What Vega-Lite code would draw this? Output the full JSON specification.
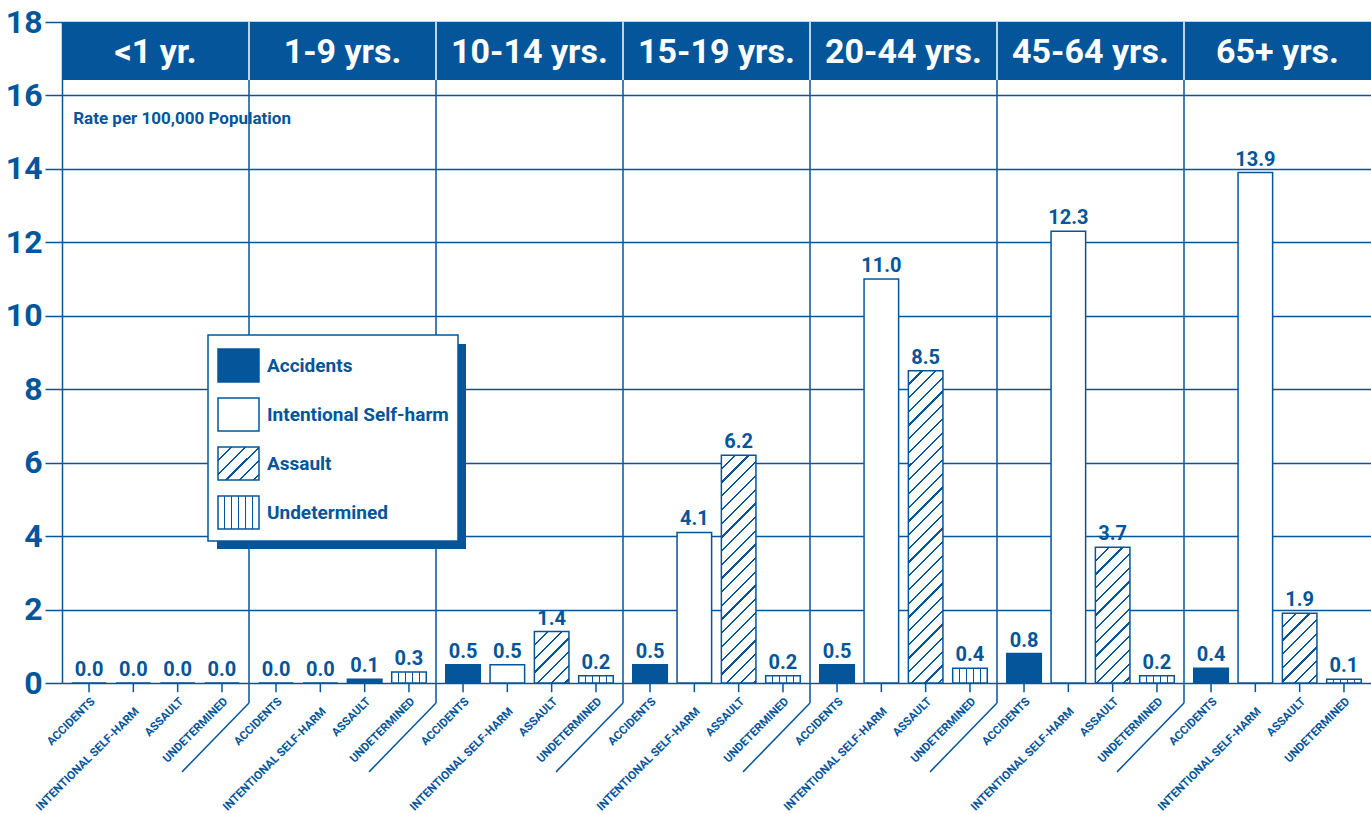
{
"$schema": "https://vega.github.io/schema/vega-lite/v6.json",
"width": 1309,
"height": 661,
"autosize": {"type": "none"},
"padding": {"left": 62, "top": 22, "right": 0, "bottom": 131},
"background": "white",
"config": {
  "view": {"stroke": null},
  "font": "Roboto",
  "axisX": {"disable": true},
  "axisY": {"domainColor": "#045599", "domainWidth": 1.5, "tickColor": "#045599", "tickWidth": 1.5, "tickSize": 17, "grid": true, "gridColor": "#045599", "gridWidth": 1.5, "gridOpacity": 1, "labelFont": "Roboto", "labelFontSize": 32, "labelFontWeight": "bold", "labelColor": "#045599", "labelPadding": 3},
  "legend": {"title": null, "orient": "none", "padding": 9, "rowPadding": 8, "strokeWidth": 1.5, "symbolType": "M-1,-0.8H1V0.8H-1Z", "symbolSize": 1681, "symbolStrokeWidth": 1.5, "symbolStrokeColor": "#045599", "labelFont": "Roboto", "labelFontSize": 19, "labelFontWeight": "bold", "labelColor": "#045599", "labelOffset": 7, "labelLimit": 400}
},
"datasets": {
  "rates": [
    {"group": "<1 yr.", "cause": "Accidents", "rate": 0.0},
    {"group": "<1 yr.", "cause": "Intentional Self-harm", "rate": 0.0},
    {"group": "<1 yr.", "cause": "Assault", "rate": 0.0},
    {"group": "<1 yr.", "cause": "Undetermined", "rate": 0.0},
    {"group": "1-9 yrs.", "cause": "Accidents", "rate": 0.0},
    {"group": "1-9 yrs.", "cause": "Intentional Self-harm", "rate": 0.0},
    {"group": "1-9 yrs.", "cause": "Assault", "rate": 0.1},
    {"group": "1-9 yrs.", "cause": "Undetermined", "rate": 0.3},
    {"group": "10-14 yrs.", "cause": "Accidents", "rate": 0.5},
    {"group": "10-14 yrs.", "cause": "Intentional Self-harm", "rate": 0.5},
    {"group": "10-14 yrs.", "cause": "Assault", "rate": 1.4},
    {"group": "10-14 yrs.", "cause": "Undetermined", "rate": 0.2},
    {"group": "15-19 yrs.", "cause": "Accidents", "rate": 0.5},
    {"group": "15-19 yrs.", "cause": "Intentional Self-harm", "rate": 4.1},
    {"group": "15-19 yrs.", "cause": "Assault", "rate": 6.2},
    {"group": "15-19 yrs.", "cause": "Undetermined", "rate": 0.2},
    {"group": "20-44 yrs.", "cause": "Accidents", "rate": 0.5},
    {"group": "20-44 yrs.", "cause": "Intentional Self-harm", "rate": 11.0},
    {"group": "20-44 yrs.", "cause": "Assault", "rate": 8.5},
    {"group": "20-44 yrs.", "cause": "Undetermined", "rate": 0.4},
    {"group": "45-64 yrs.", "cause": "Accidents", "rate": 0.8},
    {"group": "45-64 yrs.", "cause": "Intentional Self-harm", "rate": 12.3},
    {"group": "45-64 yrs.", "cause": "Assault", "rate": 3.7},
    {"group": "45-64 yrs.", "cause": "Undetermined", "rate": 0.2},
    {"group": "65+ yrs.", "cause": "Accidents", "rate": 0.4},
    {"group": "65+ yrs.", "cause": "Intentional Self-harm", "rate": 13.9},
    {"group": "65+ yrs.", "cause": "Assault", "rate": 1.9},
    {"group": "65+ yrs.", "cause": "Undetermined", "rate": 0.1}
  ],
  "groups": [
    {"group": "<1 yr."}, {"group": "1-9 yrs."}, {"group": "10-14 yrs."}, {"group": "15-19 yrs."}, {"group": "20-44 yrs."}, {"group": "45-64 yrs."}, {"group": "65+ yrs."}
  ]
},
"layer": [
  {
    "data": {"name": "rates"},
    "mark": {"type": "bar", "opacity": 0},
    "encoding": {
      "x": {"field": "group", "type": "nominal", "axis": null, "sort": null, "scale": {"domain": ["<1 yr.","1-9 yrs.","10-14 yrs.","15-19 yrs.","20-44 yrs.","45-64 yrs.","65+ yrs."], "paddingInner": 0, "paddingOuter": 0}},
      "xOffset": {"field": "cause", "type": "nominal", "sort": null, "scale": {"domain": ["Accidents","Intentional Self-harm","Assault","Undetermined"], "paddingInner": 0.22, "paddingOuter": 0.22}},
      "y": {"field": "rate", "type": "quantitative", "scale": {"domain": [0, 18], "nice": false}, "axis": {"values": [0,2,4,6,8,10,12,14,16,18], "title": null}},
      "fill": {"field": "cause", "type": "nominal", "scale": {"domain": ["Accidents","Intentional Self-harm","Assault","Undetermined"], "range": ["#045599", "#ffffff",
          {"expr": "{gradient:'linear',x1:0,y1:0,x2:1.0953,y2:0.8816,stops:[{offset:0.1698,color:'#fff'},{offset:0.1698,color:'#045599'},{offset:0.2004,color:'#045599'},{offset:0.2004,color:'#fff'},{offset:0.355,color:'#fff'},{offset:0.355,color:'#045599'},{offset:0.3856,color:'#045599'},{offset:0.3856,color:'#fff'},{offset:0.5401,color:'#fff'},{offset:0.5401,color:'#045599'},{offset:0.5707,color:'#045599'},{offset:0.5707,color:'#fff'},{offset:0.7252,color:'#fff'},{offset:0.7252,color:'#045599'},{offset:0.7558,color:'#045599'},{offset:0.7558,color:'#fff'},{offset:0.9104,color:'#fff'},{offset:0.9104,color:'#045599'},{offset:0.941,color:'#045599'},{offset:0.941,color:'#fff'}]}"},
          {"expr": "{gradient:'linear',x1:0,y1:0,x2:1,y2:0,stops:[{offset:0.1508,color:'#fff'},{offset:0.1508,color:'#045599'},{offset:0.1826,color:'#045599'},{offset:0.1826,color:'#fff'},{offset:0.3174,color:'#fff'},{offset:0.3174,color:'#045599'},{offset:0.3492,color:'#045599'},{offset:0.3492,color:'#fff'},{offset:0.4841,color:'#fff'},{offset:0.4841,color:'#045599'},{offset:0.5159,color:'#045599'},{offset:0.5159,color:'#fff'},{offset:0.6508,color:'#fff'},{offset:0.6508,color:'#045599'},{offset:0.6826,color:'#045599'},{offset:0.6826,color:'#fff'},{offset:0.8174,color:'#fff'},{offset:0.8174,color:'#045599'},{offset:0.8492,color:'#045599'},{offset:0.8492,color:'#fff'}]}"}
        ]},
        "legend": {"legendX": 146, "legendY": 313, "fillColor": "#ffffff", "strokeColor": "#045599", "symbolOpacity": 1}}
    }
  },
  {
    "data": {"name": "groups"},
    "transform": [{"filter": "datum.group !== '<1 yr.'"}],
    "mark": {"type": "rule", "color": "#045599", "strokeWidth": 1.5},
    "encoding": {
      "x": {"field": "group", "type": "nominal", "bandPosition": 0, "axis": null},
      "y": {"datum": 16.42},
      "y2": {"datum": -0.545}
    }
  },
  {
    "data": {"name": "groups"},
    "transform": [{"filter": "datum.group !== '<1 yr.'"}],
    "mark": {"type": "rule", "color": "#045599", "strokeWidth": 1.5},
    "encoding": {
      "x": {"field": "group", "type": "nominal", "bandPosition": 0, "axis": null},
      "x2": {"field": "group", "bandPosition": -0.358},
      "y": {"datum": -0.545},
      "y2": {"datum": -2.42}
    }
  },
  {
    "data": {"values": [{"part": "legend shadow"}]},
    "mark": {"type": "rect", "color": "#045599"},
    "encoding": {
      "x": {"datum": "<1 yr.", "type": "nominal", "bandPosition": 0.8289, "axis": null},
      "x2": {"datum": "10-14 yrs.", "bandPosition": 0.1604},
      "y": {"datum": 9.232},
      "y2": {"datum": 3.649}
    }
  },
  {
    "data": {"name": "groups"},
    "mark": {"type": "rect", "color": "#045599"},
    "encoding": {
      "x": {"field": "group", "type": "nominal", "axis": null},
      "y": {"datum": 18},
      "y2": {"datum": 16.42}
    }
  },
  {
    "data": {"name": "groups"},
    "transform": [{"filter": "datum.group !== '<1 yr.'"}],
    "mark": {"type": "rule", "color": "#ffffff", "strokeWidth": 1.5},
    "encoding": {
      "x": {"field": "group", "type": "nominal", "bandPosition": 0, "axis": null},
      "y": {"datum": 18},
      "y2": {"datum": 16.42}
    }
  },
  {
    "data": {"name": "groups"},
    "mark": {"type": "text", "color": "#ffffff", "fontSize": 34, "fontWeight": "bold", "baseline": "alphabetic"},
    "encoding": {
      "x": {"field": "group", "type": "nominal", "axis": null},
      "y": {"datum": 16.88},
      "text": {"field": "group"}
    }
  },
  {
    "data": {"values": [{"note": "Rate per 100,000 Population"}]},
    "mark": {"type": "text", "color": "#045599", "fontSize": 17, "fontWeight": "bold", "align": "left", "baseline": "middle"},
    "encoding": {
      "x": {"datum": "<1 yr.", "type": "nominal", "bandPosition": 0.06, "axis": null},
      "y": {"datum": 15.36},
      "text": {"field": "note"}
    }
  },
  {
    "data": {"name": "rates"},
    "mark": {"type": "bar", "strokeWidth": 1.5, "stroke": "#045599"},
    "encoding": {
      "x": {"field": "group", "type": "nominal", "axis": null},
      "xOffset": {"field": "cause", "type": "nominal"},
      "y": {"field": "rate", "type": "quantitative"},
      "fill": {
        "condition": [
          {"test": "datum.cause === 'Accidents'", "value": "#045599"},
          {"test": "datum.cause === 'Undetermined'", "value": {"gradient": "linear", "x1": 0, "y1": 0, "x2": 1, "y2": 0, "stops": [
            {"offset":0.1812,"color":"#fff"},{"offset":0.1812,"color":"#045599"},{"offset":0.2188,"color":"#045599"},{"offset":0.2188,"color":"#fff"},
            {"offset":0.3812,"color":"#fff"},{"offset":0.3812,"color":"#045599"},{"offset":0.4188,"color":"#045599"},{"offset":0.4188,"color":"#fff"},
            {"offset":0.5812,"color":"#fff"},{"offset":0.5812,"color":"#045599"},{"offset":0.6188,"color":"#045599"},{"offset":0.6188,"color":"#fff"},
            {"offset":0.7812,"color":"#fff"},{"offset":0.7812,"color":"#045599"},{"offset":0.8188,"color":"#045599"},{"offset":0.8188,"color":"#fff"}]}},
          {"test": "datum.cause === 'Assault' && datum.group === '1-9 yrs.'", "value": "#045599"},
          {"test": "datum.cause === 'Assault' && datum.group === '10-14 yrs.'", "value": {"gradient": "linear", "x1": 0, "y1": 0, "x2": 0.775, "y2": 1.151, "stops": [
            {"offset":0.1462,"color":"#fff"},{"offset":0.1462,"color":"#045599"},{"offset":0.1724,"color":"#045599"},{"offset":0.1724,"color":"#fff"},
            {"offset":0.3055,"color":"#fff"},{"offset":0.3055,"color":"#045599"},{"offset":0.3317,"color":"#045599"},{"offset":0.3317,"color":"#fff"},
            {"offset":0.4648,"color":"#fff"},{"offset":0.4648,"color":"#045599"},{"offset":0.4910,"color":"#045599"},{"offset":0.4910,"color":"#fff"},
            {"offset":0.6241,"color":"#fff"},{"offset":0.6241,"color":"#045599"},{"offset":0.6503,"color":"#045599"},{"offset":0.6503,"color":"#fff"},
            {"offset":0.7834,"color":"#fff"},{"offset":0.7834,"color":"#045599"},{"offset":0.8096,"color":"#045599"},{"offset":0.8096,"color":"#fff"},
            {"offset":0.9427,"color":"#fff"},{"offset":0.9427,"color":"#045599"},{"offset":0.9689,"color":"#045599"},{"offset":0.9689,"color":"#fff"}]}},
          {"test": "datum.cause === 'Assault' && datum.group === '15-19 yrs.'", "value": {"gradient": "linear", "x1": 0, "y1": 0, "x2": 0.1709, "y2": 1.126, "stops": [
            {"offset":0.0479,"color":"#fff"},{"offset":0.0479,"color":"#045599"},{"offset":0.0565,"color":"#045599"},{"offset":0.0565,"color":"#fff"},
            {"offset":0.1002,"color":"#fff"},{"offset":0.1002,"color":"#045599"},{"offset":0.1088,"color":"#045599"},{"offset":0.1088,"color":"#fff"},
            {"offset":0.1524,"color":"#fff"},{"offset":0.1524,"color":"#045599"},{"offset":0.1610,"color":"#045599"},{"offset":0.1610,"color":"#fff"},
            {"offset":0.2046,"color":"#fff"},{"offset":0.2046,"color":"#045599"},{"offset":0.2132,"color":"#045599"},{"offset":0.2132,"color":"#fff"},
            {"offset":0.2569,"color":"#fff"},{"offset":0.2569,"color":"#045599"},{"offset":0.2655,"color":"#045599"},{"offset":0.2655,"color":"#fff"},
            {"offset":0.3091,"color":"#fff"},{"offset":0.3091,"color":"#045599"},{"offset":0.3177,"color":"#045599"},{"offset":0.3177,"color":"#fff"},
            {"offset":0.3613,"color":"#fff"},{"offset":0.3613,"color":"#045599"},{"offset":0.3699,"color":"#045599"},{"offset":0.3699,"color":"#fff"},
            {"offset":0.4135,"color":"#fff"},{"offset":0.4135,"color":"#045599"},{"offset":0.4221,"color":"#045599"},{"offset":0.4221,"color":"#fff"},
            {"offset":0.4658,"color":"#fff"},{"offset":0.4658,"color":"#045599"},{"offset":0.4744,"color":"#045599"},{"offset":0.4744,"color":"#fff"},
            {"offset":0.5180,"color":"#fff"},{"offset":0.5180,"color":"#045599"},{"offset":0.5266,"color":"#045599"},{"offset":0.5266,"color":"#fff"},
            {"offset":0.5702,"color":"#fff"},{"offset":0.5702,"color":"#045599"},{"offset":0.5788,"color":"#045599"},{"offset":0.5788,"color":"#fff"},
            {"offset":0.6225,"color":"#fff"},{"offset":0.6225,"color":"#045599"},{"offset":0.6311,"color":"#045599"},{"offset":0.6311,"color":"#fff"},
            {"offset":0.6747,"color":"#fff"},{"offset":0.6747,"color":"#045599"},{"offset":0.6833,"color":"#045599"},{"offset":0.6833,"color":"#fff"},
            {"offset":0.7269,"color":"#fff"},{"offset":0.7269,"color":"#045599"},{"offset":0.7355,"color":"#045599"},{"offset":0.7355,"color":"#fff"},
            {"offset":0.7792,"color":"#fff"},{"offset":0.7792,"color":"#045599"},{"offset":0.7878,"color":"#045599"},{"offset":0.7878,"color":"#fff"},
            {"offset":0.8314,"color":"#fff"},{"offset":0.8314,"color":"#045599"},{"offset":0.8400,"color":"#045599"},{"offset":0.8400,"color":"#fff"},
            {"offset":0.8836,"color":"#fff"},{"offset":0.8836,"color":"#045599"},{"offset":0.8922,"color":"#045599"},{"offset":0.8922,"color":"#fff"},
            {"offset":0.9358,"color":"#fff"},{"offset":0.9358,"color":"#045599"},{"offset":0.9444,"color":"#045599"},{"offset":0.9444,"color":"#fff"},
            {"offset":0.9881,"color":"#fff"},{"offset":0.9881,"color":"#045599"},{"offset":0.9967,"color":"#045599"},{"offset":0.9967,"color":"#fff"}]}},
          {"test": "datum.cause === 'Assault' && datum.group === '20-44 yrs.'", "value": {"gradient": "linear", "x1": 0, "y1": 0, "x2": 0.1215, "y2": 1.0974, "stops": [
            {"offset":0.0362,"color":"#fff"},{"offset":0.0362,"color":"#045599"},{"offset":0.0428,"color":"#045599"},{"offset":0.0428,"color":"#fff"},
            {"offset":0.0757,"color":"#fff"},{"offset":0.0757,"color":"#045599"},{"offset":0.0823,"color":"#045599"},{"offset":0.0823,"color":"#fff"},
            {"offset":0.1152,"color":"#fff"},{"offset":0.1152,"color":"#045599"},{"offset":0.1218,"color":"#045599"},{"offset":0.1218,"color":"#fff"},
            {"offset":0.1548,"color":"#fff"},{"offset":0.1548,"color":"#045599"},{"offset":0.1614,"color":"#045599"},{"offset":0.1614,"color":"#fff"},
            {"offset":0.1943,"color":"#fff"},{"offset":0.1943,"color":"#045599"},{"offset":0.2009,"color":"#045599"},{"offset":0.2009,"color":"#fff"},
            {"offset":0.2338,"color":"#fff"},{"offset":0.2338,"color":"#045599"},{"offset":0.2404,"color":"#045599"},{"offset":0.2404,"color":"#fff"},
            {"offset":0.2733,"color":"#fff"},{"offset":0.2733,"color":"#045599"},{"offset":0.2799,"color":"#045599"},{"offset":0.2799,"color":"#fff"},
            {"offset":0.3128,"color":"#fff"},{"offset":0.3128,"color":"#045599"},{"offset":0.3194,"color":"#045599"},{"offset":0.3194,"color":"#fff"},
            {"offset":0.3523,"color":"#fff"},{"offset":0.3523,"color":"#045599"},{"offset":0.3589,"color":"#045599"},{"offset":0.3589,"color":"#fff"},
            {"offset":0.3919,"color":"#fff"},{"offset":0.3919,"color":"#045599"},{"offset":0.3985,"color":"#045599"},{"offset":0.3985,"color":"#fff"},
            {"offset":0.4314,"color":"#fff"},{"offset":0.4314,"color":"#045599"},{"offset":0.4380,"color":"#045599"},{"offset":0.4380,"color":"#fff"},
            {"offset":0.4709,"color":"#fff"},{"offset":0.4709,"color":"#045599"},{"offset":0.4775,"color":"#045599"},{"offset":0.4775,"color":"#fff"},
            {"offset":0.5104,"color":"#fff"},{"offset":0.5104,"color":"#045599"},{"offset":0.5170,"color":"#045599"},{"offset":0.5170,"color":"#fff"},
            {"offset":0.5499,"color":"#fff"},{"offset":0.5499,"color":"#045599"},{"offset":0.5565,"color":"#045599"},{"offset":0.5565,"color":"#fff"},
            {"offset":0.5894,"color":"#fff"},{"offset":0.5894,"color":"#045599"},{"offset":0.5960,"color":"#045599"},{"offset":0.5960,"color":"#fff"},
            {"offset":0.6290,"color":"#fff"},{"offset":0.6290,"color":"#045599"},{"offset":0.6356,"color":"#045599"},{"offset":0.6356,"color":"#fff"},
            {"offset":0.6685,"color":"#fff"},{"offset":0.6685,"color":"#045599"},{"offset":0.6751,"color":"#045599"},{"offset":0.6751,"color":"#fff"},
            {"offset":0.7080,"color":"#fff"},{"offset":0.7080,"color":"#045599"},{"offset":0.7146,"color":"#045599"},{"offset":0.7146,"color":"#fff"},
            {"offset":0.7475,"color":"#fff"},{"offset":0.7475,"color":"#045599"},{"offset":0.7541,"color":"#045599"},{"offset":0.7541,"color":"#fff"},
            {"offset":0.7870,"color":"#fff"},{"offset":0.7870,"color":"#045599"},{"offset":0.7936,"color":"#045599"},{"offset":0.7936,"color":"#fff"},
            {"offset":0.8265,"color":"#fff"},{"offset":0.8265,"color":"#045599"},{"offset":0.8331,"color":"#045599"},{"offset":0.8331,"color":"#fff"},
            {"offset":0.8661,"color":"#fff"},{"offset":0.8661,"color":"#045599"},{"offset":0.8727,"color":"#045599"},{"offset":0.8727,"color":"#fff"},
            {"offset":0.9056,"color":"#fff"},{"offset":0.9056,"color":"#045599"},{"offset":0.9122,"color":"#045599"},{"offset":0.9122,"color":"#fff"},
            {"offset":0.9451,"color":"#fff"},{"offset":0.9451,"color":"#045599"},{"offset":0.9517,"color":"#045599"},{"offset":0.9517,"color":"#fff"},
            {"offset":0.9846,"color":"#fff"},{"offset":0.9846,"color":"#045599"},{"offset":0.9912,"color":"#045599"},{"offset":0.9912,"color":"#fff"}]}},
          {"test": "datum.cause === 'Assault' && datum.group === '45-64 yrs.'", "value": {"gradient": "linear", "x1": 0, "y1": 0, "x2": 0.2997, "y2": 1.1784, "stops": [
            {"offset":0.0738,"color":"#fff"},{"offset":0.0738,"color":"#045599"},{"offset":0.0870,"color":"#045599"},{"offset":0.0870,"color":"#fff"},
            {"offset":0.1541,"color":"#fff"},{"offset":0.1541,"color":"#045599"},{"offset":0.1673,"color":"#045599"},{"offset":0.1673,"color":"#fff"},
            {"offset":0.2345,"color":"#fff"},{"offset":0.2345,"color":"#045599"},{"offset":0.2477,"color":"#045599"},{"offset":0.2477,"color":"#fff"},
            {"offset":0.3148,"color":"#fff"},{"offset":0.3148,"color":"#045599"},{"offset":0.3280,"color":"#045599"},{"offset":0.3280,"color":"#fff"},
            {"offset":0.3952,"color":"#fff"},{"offset":0.3952,"color":"#045599"},{"offset":0.4084,"color":"#045599"},{"offset":0.4084,"color":"#fff"},
            {"offset":0.4755,"color":"#fff"},{"offset":0.4755,"color":"#045599"},{"offset":0.4887,"color":"#045599"},{"offset":0.4887,"color":"#fff"},
            {"offset":0.5559,"color":"#fff"},{"offset":0.5559,"color":"#045599"},{"offset":0.5691,"color":"#045599"},{"offset":0.5691,"color":"#fff"},
            {"offset":0.6362,"color":"#fff"},{"offset":0.6362,"color":"#045599"},{"offset":0.6494,"color":"#045599"},{"offset":0.6494,"color":"#fff"},
            {"offset":0.7166,"color":"#fff"},{"offset":0.7166,"color":"#045599"},{"offset":0.7298,"color":"#045599"},{"offset":0.7298,"color":"#fff"},
            {"offset":0.7969,"color":"#fff"},{"offset":0.7969,"color":"#045599"},{"offset":0.8101,"color":"#045599"},{"offset":0.8101,"color":"#fff"},
            {"offset":0.8773,"color":"#fff"},{"offset":0.8773,"color":"#045599"},{"offset":0.8905,"color":"#045599"},{"offset":0.8905,"color":"#fff"},
            {"offset":0.9576,"color":"#fff"},{"offset":0.9576,"color":"#045599"},{"offset":0.9708,"color":"#045599"},{"offset":0.9708,"color":"#fff"}]}},
          {"test": "datum.cause === 'Assault' && datum.group === '65+ yrs.'", "value": {"gradient": "linear", "x1": 0, "y1": 0, "x2": 0.5948, "y2": 1.2012, "stops": [
            {"offset":0.1204,"color":"#fff"},{"offset":0.1204,"color":"#045599"},{"offset":0.1420,"color":"#045599"},{"offset":0.1420,"color":"#fff"},
            {"offset":0.2517,"color":"#fff"},{"offset":0.2517,"color":"#045599"},{"offset":0.2733,"color":"#045599"},{"offset":0.2733,"color":"#fff"},
            {"offset":0.3829,"color":"#fff"},{"offset":0.3829,"color":"#045599"},{"offset":0.4045,"color":"#045599"},{"offset":0.4045,"color":"#fff"},
            {"offset":0.5141,"color":"#fff"},{"offset":0.5141,"color":"#045599"},{"offset":0.5357,"color":"#045599"},{"offset":0.5357,"color":"#fff"},
            {"offset":0.6454,"color":"#fff"},{"offset":0.6454,"color":"#045599"},{"offset":0.6670,"color":"#045599"},{"offset":0.6670,"color":"#fff"},
            {"offset":0.7766,"color":"#fff"},{"offset":0.7766,"color":"#045599"},{"offset":0.7982,"color":"#045599"},{"offset":0.7982,"color":"#fff"},
            {"offset":0.9078,"color":"#fff"},{"offset":0.9078,"color":"#045599"},{"offset":0.9294,"color":"#045599"},{"offset":0.9294,"color":"#fff"}]}}
        ],
        "value": "#ffffff"
      }
    }
  },
  {
    "data": {"name": "rates"},
    "mark": {"type": "rule", "color": "#045599", "strokeWidth": 1.5},
    "encoding": {
      "x": {"field": "group", "type": "nominal", "axis": null},
      "xOffset": {"field": "cause", "type": "nominal"},
      "y": {"datum": 0},
      "y2": {"datum": -0.25}
    }
  },
  {
    "data": {"name": "rates"},
    "mark": {"type": "text", "color": "#045599", "fontSize": 20, "fontWeight": "bold", "baseline": "alphabetic", "dy": -7},
    "encoding": {
      "x": {"field": "group", "type": "nominal", "axis": null},
      "xOffset": {"field": "cause", "type": "nominal"},
      "y": {"field": "rate", "type": "quantitative"},
      "text": {"field": "rate", "type": "quantitative", "format": ".1f"}
    }
  },
  {
    "data": {"name": "rates"},
    "transform": [{"calculate": "upper(datum.cause)", "as": "cat"}, {"filter": "datum.cause !== 'Intentional Self-harm'"}],
    "mark": {"type": "text", "color": "#045599", "fontSize": 11.5, "fontWeight": "bold", "angle": -45, "align": "right", "baseline": "top"},
    "encoding": {
      "x": {"field": "group", "type": "nominal", "axis": null},
      "xOffset": {"field": "cause", "type": "nominal"},
      "y": {"datum": -0.35},
      "text": {"field": "cat"}
    }
  },
  {
    "data": {"name": "rates"},
    "transform": [{"calculate": "upper(datum.cause)", "as": "cat"}, {"filter": "datum.cause === 'Intentional Self-harm'"}],
    "mark": {"type": "text", "color": "#045599", "fontSize": 11.5, "fontWeight": "bold", "angle": -45, "align": "right", "baseline": "top"},
    "encoding": {
      "x": {"field": "group", "type": "nominal", "axis": null},
      "xOffset": {"field": "cause", "type": "nominal"},
      "y": {"datum": -0.62},
      "text": {"field": "cat"}
    }
  }
]
}
